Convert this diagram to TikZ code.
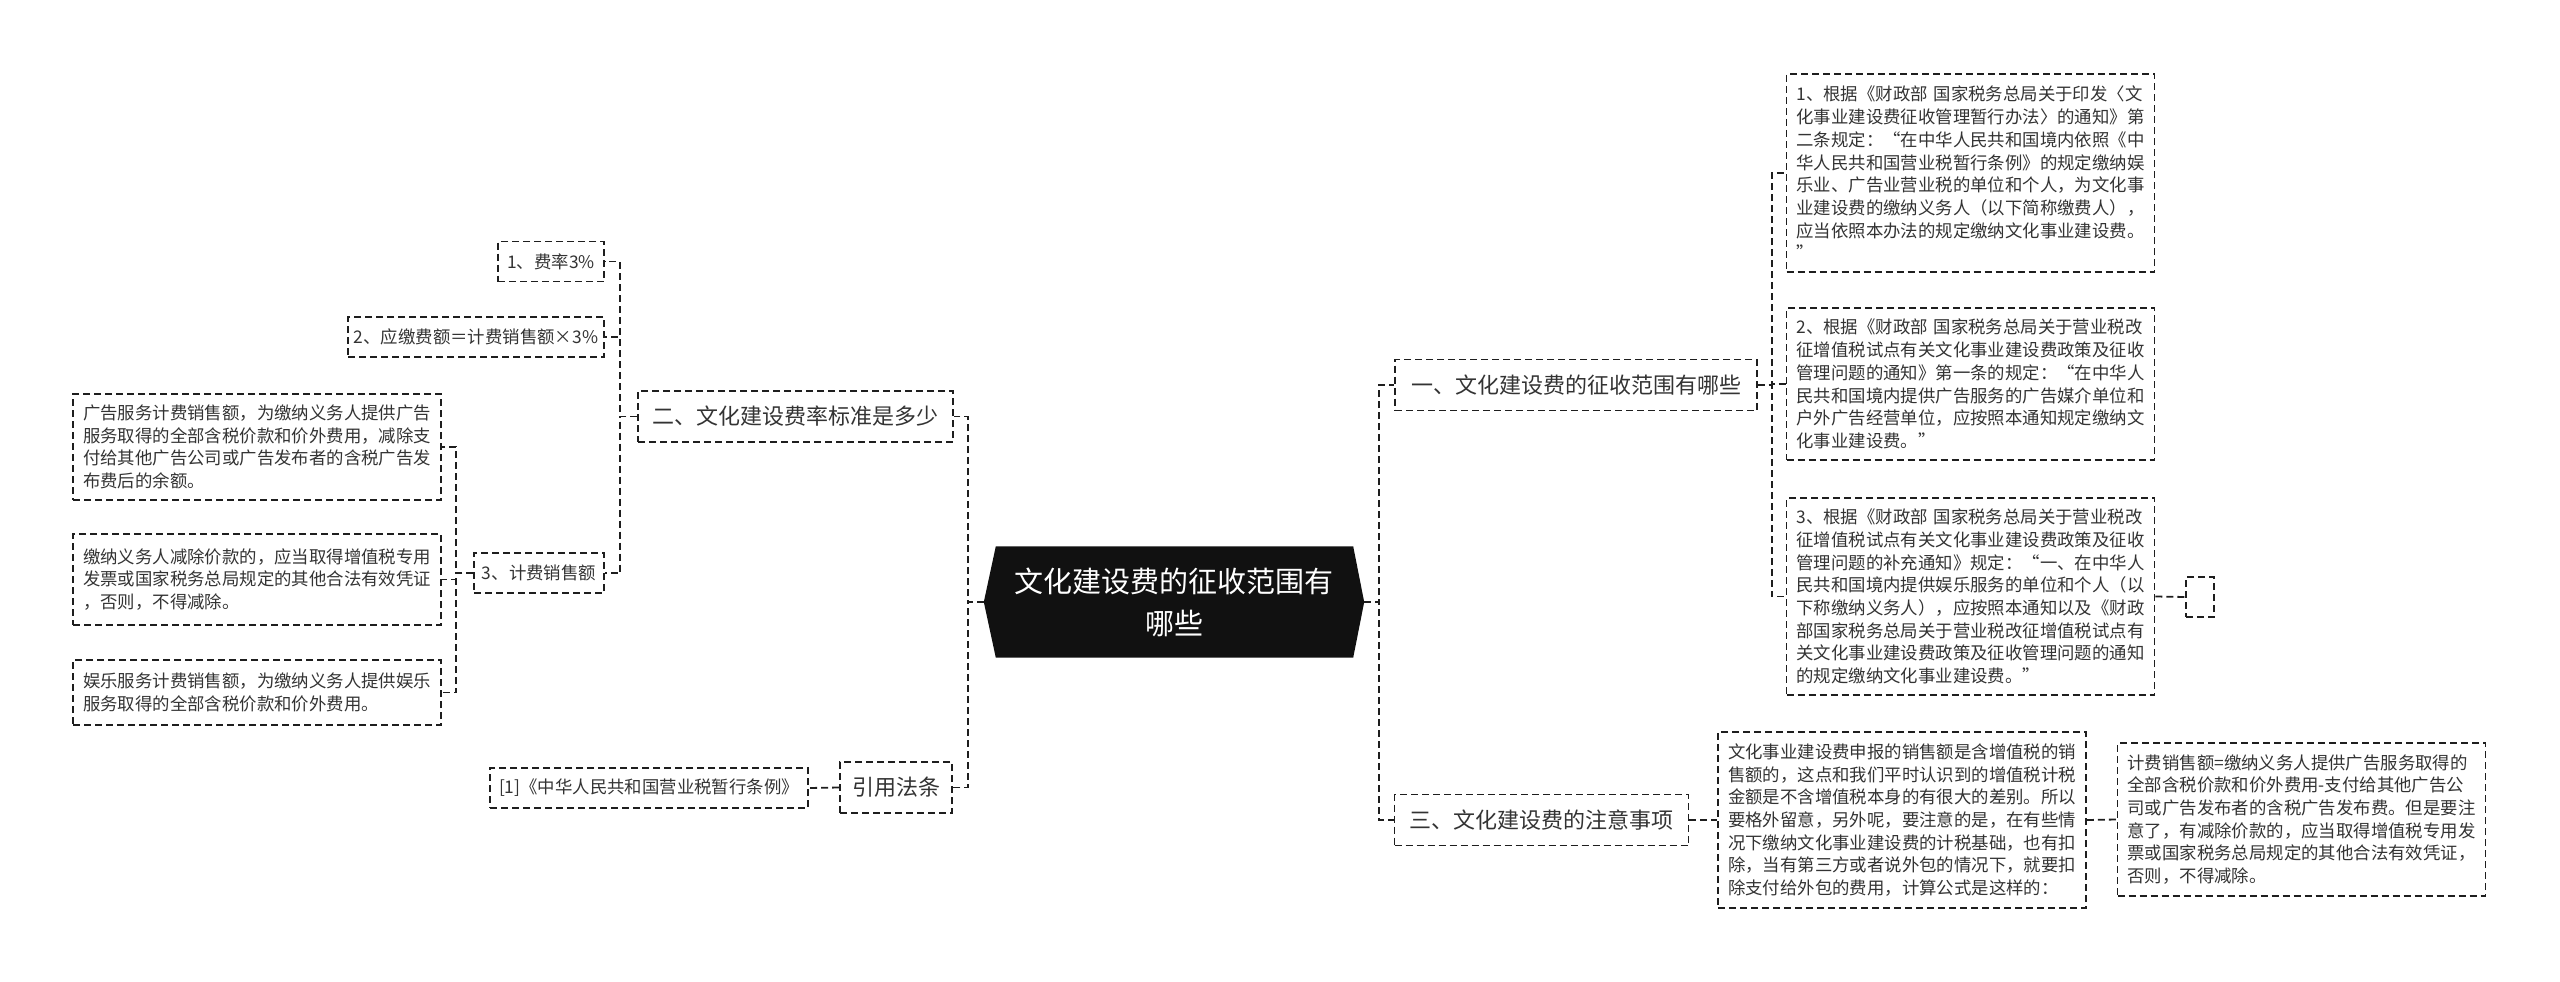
\documentclass[tikz,border=0pt]{standalone}
\usepackage{fontspec}
\setmainfont{Noto Sans CJK SC}
\usetikzlibrary{backgrounds,calc}
\definecolor{ink}{HTML}{333333}
\definecolor{lineink}{HTML}{1E1E1E}
\definecolor{dark}{HTML}{111111}
\newcommand\fsm{\fontsize{17.4pt}{22.7pt}\selectfont}
\newcommand\fmid{\fontsize{22pt}{26pt}\selectfont}
\newcommand\fbig{\fontsize{29pt}{42pt}\selectfont}
\tikzset{
  dashline/.style={draw=lineink, line width=1.8pt, dash pattern=on 7pt off 4pt},
  conn/.style={dashline},
  box/.style={dashline, text=ink, inner sep=0pt},
  longbox/.style={box, font=\fsm, text width=348pt, align=left, minimum width=368pt, minimum height=#1},
  smallbox/.style={box, font=\fsm, align=center, minimum width=#1, minimum height=40pt},
  topbox/.style={box, font=\fmid, align=center, minimum width=#1, minimum height=51pt},
  central/.style={text=white, font=\fbig, align=center, inner sep=0pt, minimum width=380pt, minimum height=111pt}
}
\begin{document}
\begin{tikzpicture}[x=1pt,y=-1pt]
\useasboundingbox (0,0) rectangle (2560,982);

% central node
\node[central] (c) at (1174,602) {文化建设费的征收范围有\\哪些};
\begin{scope}[on background layer]
\fill[dark] ([xshift=12pt]c.north west) -- ([xshift=-11pt]c.north east) -- (c.east)
  -- ([xshift=-11pt]c.south east) -- ([xshift=12pt]c.south west) -- (c.west) -- cycle;
\end{scope}

% right side
\node[topbox=362pt] (n1) at (1576,385) {一、文化建设费的征收范围有哪些};
\node[topbox=294pt] (n3) at (1541.5,820) {三、文化建设费的注意事项};

\node[longbox=198pt] (b1) at (1970.5,173) {1、根据《财政部 国家税务总局关于印发〈文\\化事业建设费征收管理暂行办法〉的通知》第\\二条规定：“在中华人民共和国境内依照《中\\华人民共和国营业税暂行条例》的规定缴纳娱\\乐业、广告业营业税的单位和个人，为文化事\\业建设费的缴纳义务人（以下简称缴费人），\\应当依照本办法的规定缴纳文化事业建设费。\\”};
\node[longbox=152pt] (b2) at (1970.5,384) {2、根据《财政部 国家税务总局关于营业税改\\征增值税试点有关文化事业建设费政策及征收\\管理问题的通知》第一条的规定：“在中华人\\民共和国境内提供广告服务的广告媒介单位和\\户外广告经营单位，应按照本通知规定缴纳文\\化事业建设费。”};
\node[longbox=197pt] (b3) at (1970.5,596.5) {3、根据《财政部 国家税务总局关于营业税改\\征增值税试点有关文化事业建设费政策及征收\\管理问题的补充通知》规定：“一、在中华人\\民共和国境内提供娱乐服务的单位和个人（以\\下称缴纳义务人），应按照本通知以及《财政\\部国家税务总局关于营业税改征增值税试点有\\关文化事业建设费政策及征收管理问题的通知\\的规定缴纳文化事业建设费。”};
\node[box, minimum width=28pt, minimum height=40pt] (bs) at (2200,597) {};

\node[longbox=176pt] (t1) at (1902,820) {文化事业建设费申报的销售额是含增值税的销\\售额的，这点和我们平时认识到的增值税计税\\金额是不含增值税本身的有很大的差别。所以\\要格外留意，另外呢，要注意的是，在有些情\\况下缴纳文化事业建设费的计税基础，也有扣\\除，当有第三方或者说外包的情况下，就要扣\\除支付给外包的费用，计算公式是这样的：};
\node[longbox=153pt] (t2) at (2301.5,819.5) {计费销售额=缴纳义务人提供广告服务取得的\\全部含税价款和价外费用-支付给其他广告公\\司或广告发布者的含税广告发布费。但是要注\\意了，有减除价款的，应当取得增值税专用发\\票或国家税务总局规定的其他合法有效凭证，\\否则，不得减除。};

% left side
\node[topbox=315pt] (n2) at (795.5,416.5) {二、文化建设费率标准是多少};
\node[topbox=112pt] (ref) at (896,787.5) {引用法条};
\node[smallbox=318pt] (lref) at (649,788) {[1]《中华人民共和国营业税暂行条例》};

\node[smallbox=106pt] (r1) at (551,261.5) {1、费率3\%};
\node[smallbox=256pt] (r2) at (476,337) {2、应缴费额＝计费销售额×3\%};
\node[smallbox=130pt] (r3) at (539,573) {3、计费销售额};

\node[longbox=106pt] (a1) at (257,447) {广告服务计费销售额，为缴纳义务人提供广告\\服务取得的全部含税价款和价外费用，减除支\\付给其他广告公司或广告发布者的含税广告发\\布费后的余额。};
\node[longbox=91pt] (a2) at (257,579.5) {缴纳义务人减除价款的，应当取得增值税专用\\发票或国家税务总局规定的其他合法有效凭证\\，否则，不得减除。};
\node[longbox=65pt] (a3) at (257,692.5) {娱乐服务计费销售额，为缴纳义务人提供娱乐\\服务取得的全部含税价款和价外费用。};

% connectors
\draw[conn] (c.west) -- ++(-16,0) |- (n2.east);
\draw[conn] (c.west) -- ++(-16,0) |- (ref.east);
\draw[conn] (c.east) -- ++(15,0) |- (n1.west);
\draw[conn] (c.east) -- ++(15,0) |- (n3.west);

\draw[conn] (n1.east) -- ++(14,0) |- (b1.west);
\draw[conn] (n1.east) -- ++(14,0) |- (b2.west);
\draw[conn] (n1.east) -- ++(14,0) |- (b3.west);
\draw[conn] (b3.east) -- (bs.west);

\draw[conn] (n3.east) -- (t1.west);
\draw[conn] (t1.east) -- (t2.west);

\draw[conn] (n2.west) -- ++(-17,0) |- (r1.east);
\draw[conn] (n2.west) -- ++(-17,0) |- (r2.east);
\draw[conn] (n2.west) -- ++(-17,0) |- (r3.east);

\draw[conn] (r3.west) -- ++(-17,0) |- (a1.east);
\draw[conn] (r3.west) -- ++(-17,0) |- (a2.east);
\draw[conn] (r3.west) -- ++(-17,0) |- (a3.east);

\draw[conn] (ref.west) -- (lref.east);
\end{tikzpicture}
\end{document}
